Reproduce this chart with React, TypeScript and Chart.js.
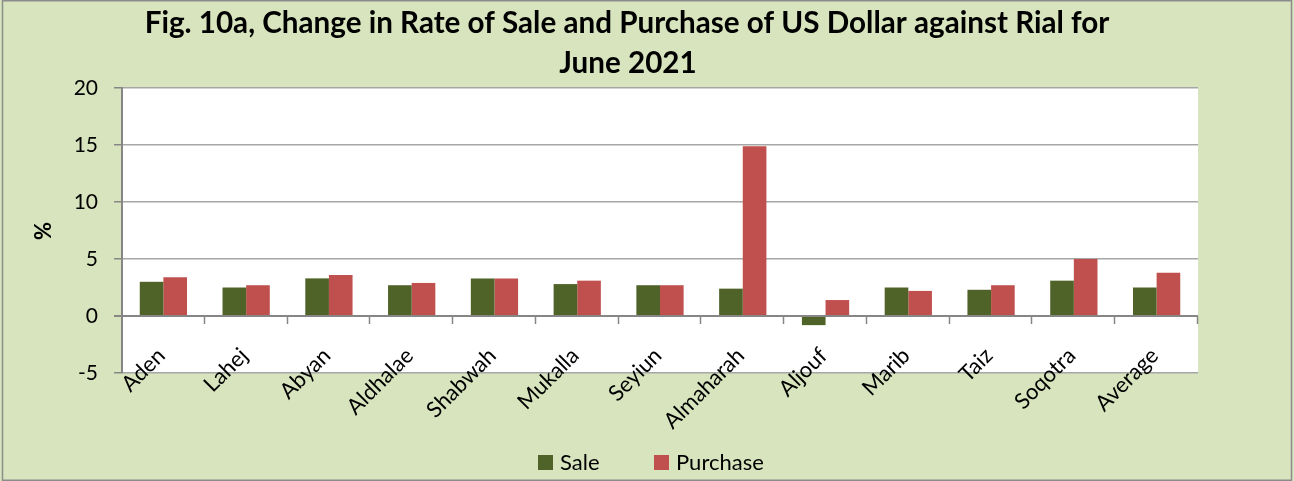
import React, { useEffect, useRef } from "react";
import { Chart, registerables } from "chart.js";

Chart.register(...registerables);

const titleLines = [
  "Fig. 10a, Change in Rate of Sale and Purchase of US Dollar against Rial for",
  "June 2021",
];
const categories = [
  "Aden", "Lahej", "Abyan", "Aldhalae", "Shabwah", "Mukalla", "Seyiun",
  "Almaharah", "Aljouf", "Marib", "Taiz", "Soqotra", "Average",
];
const saleValues = [3.0, 2.5, 3.3, 2.7, 3.3, 2.8, 2.7, 2.4, -0.8, 2.5, 2.3, 3.1, 2.5];
const purchaseValues = [3.4, 2.7, 3.6, 2.9, 3.3, 3.1, 2.7, 14.9, 1.4, 2.2, 2.7, 5.0, 3.8];
const yMin = -5;
const yMax = 20;
const yStep = 5;
const yTitle = "%";
const seriesNames = ["Sale", "Purchase"];
const seriesColors = ["#4F6228", "#C0504D"];

const FONT = "Lato, 'Open Sans', sans-serif";
const BG = "#D7E4BD";
const GRID = "#A6A6A6";
const AXIS = "#868686";

const decorPlugin = {
  id: "decor",
  beforeDraw(chart: any) {
    const { ctx, width, height, chartArea } = chart;
    ctx.save();
    ctx.fillStyle = BG;
    ctx.fillRect(0, 0, width, height);
    ctx.fillStyle = "#FFFFFF";
    ctx.fillRect(chartArea.left, chartArea.top, chartArea.right - chartArea.left, chartArea.bottom - chartArea.top);
    ctx.restore();
  },
  afterDatasetsDraw(chart: any) {
    const { ctx, chartArea, scales } = chart;
    const y = scales.y;
    const y0 = y.getPixelForValue(0);
    ctx.save();
    ctx.strokeStyle = AXIS;
    ctx.lineWidth = 2;
    ctx.beginPath();
    ctx.moveTo(chartArea.left, y0);
    ctx.lineTo(chartArea.right, y0);
    ctx.stroke();
    const n = categories.length;
    const w = (chartArea.right - chartArea.left) / n;
    ctx.lineWidth = 1.5;
    for (let i = 1; i <= n; i++) {
      const px = Math.round(chartArea.left + i * w) - 0.5;
      ctx.beginPath();
      ctx.moveTo(px, y0);
      ctx.lineTo(px, y0 + 8);
      ctx.stroke();
    }
    ctx.restore();
  },
  afterDraw(chart: any) {
    const { ctx, width, height, scales } = chart;
    const x = scales.x;
    const y = scales.y;
    const y0 = y.getPixelForValue(0);
    ctx.save();
    ctx.fillStyle = "#000000";
    ctx.font = `22px ${FONT}`;
    ctx.textAlign = "right";
    ctx.textBaseline = "middle";
    categories.forEach((c, i) => {
      const cx = x.getPixelForValue(i);
      ctx.save();
      ctx.translate(cx - 2, y0 + 36);
      ctx.rotate(-Math.PI / 4);
      ctx.fillText(c, 0, 0);
      ctx.restore();
    });
    ctx.textAlign = "center";
    ctx.textBaseline = "alphabetic";
    let fs = 26;
    ctx.font = `bold ${fs}px ${FONT}`;
    const target = 965;
    const m = ctx.measureText(titleLines[0]).width;
    fs = (fs * target) / m;
    ctx.font = `bold ${fs}px ${FONT}`;
    ctx.fillText(titleLines[0], 627, 33);
    ctx.fillText(titleLines[1], 628, 73);
    ctx.save();
    ctx.translate(44, 231);
    ctx.rotate(-Math.PI / 2);
    ctx.font = `bold 22px ${FONT}`;
    ctx.textBaseline = "middle";
    ctx.fillText(yTitle, 0, 0);
    ctx.restore();
    ctx.font = `22px ${FONT}`;
    ctx.textAlign = "left";
    ctx.textBaseline = "middle";
    const lx = [538, 654];
    seriesNames.forEach((s, i) => {
      ctx.fillStyle = seriesColors[i];
      ctx.fillRect(lx[i], 455, 15, 15);
      ctx.fillStyle = "#000000";
      ctx.fillText(s, lx[i] + 22, 463);
    });
    ctx.strokeStyle = "#8C8C8C";
    ctx.lineWidth = 1.5;
    ctx.strokeRect(2.5, 0.75, width - 5, height - 1.5);
    ctx.restore();
  },
};

export default function App() {
  const ref = useRef<HTMLCanvasElement | null>(null);
  useEffect(() => {
    if (!ref.current) return;
    const chart = new Chart(ref.current, {
      type: "bar",
      data: {
        labels: categories,
        datasets: [
          {
            label: seriesNames[0],
            data: saleValues,
            backgroundColor: seriesColors[0],
            borderWidth: 0,
            categoryPercentage: 0.571,
            barPercentage: 1.0,
          },
          {
            label: seriesNames[1],
            data: purchaseValues,
            backgroundColor: seriesColors[1],
            borderWidth: 0,
            categoryPercentage: 0.571,
            barPercentage: 1.0,
          },
        ],
      },
      options: {
        animation: false,
        responsive: false,
        maintainAspectRatio: false,
        devicePixelRatio: 1,
        layout: { padding: { top: 88, left: 0, right: 96, bottom: 108 } },
        plugins: {
          legend: { display: false },
          title: { display: false },
          tooltip: { enabled: false },
        },
        scales: {
          x: {
            display: false,
            offset: true,
            grid: { display: false },
          },
          y: {
            min: yMin,
            max: yMax,
            afterFit: (s: any) => {
              s.width = 122;
            },
            ticks: {
              stepSize: yStep,
              color: "#000000",
              font: { family: FONT, size: 21 },
              padding: 16,
            },
            grid: {
              color: (c: any) => (c.tick && c.tick.value === 0 ? AXIS : GRID),
              lineWidth: (c: any) => (c.tick && c.tick.value === 0 ? 2 : 1.5),
              tickColor: AXIS,
              tickLength: 8,
            },
            border: { color: AXIS, width: 2 },
          },
        },
      },
      plugins: [decorPlugin],
    });
    return () => chart.destroy();
  }, []);
  return (
    <div style={{ position: "absolute", left: 0, top: 0, width: 1294, height: 481 }}>
      <canvas ref={ref} width={1294} height={481} style={{ width: 1294, height: 481, display: "block" }} />
    </div>
  );
}
